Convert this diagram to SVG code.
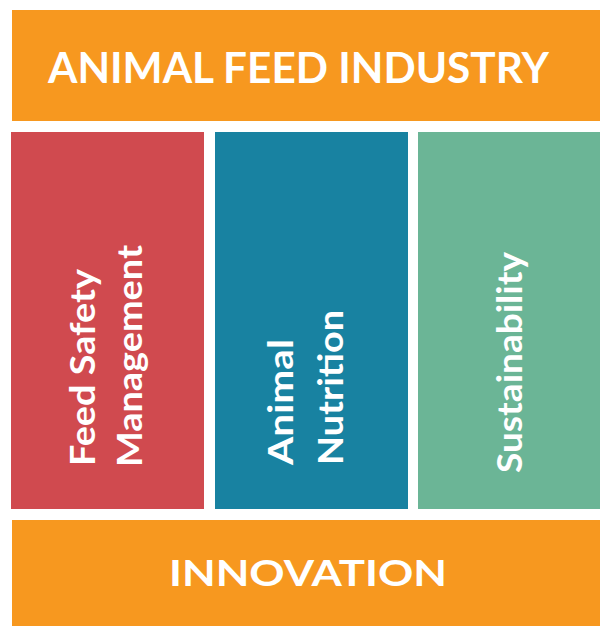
<svg xmlns="http://www.w3.org/2000/svg" width="600" height="626" viewBox="0 0 600 626">
<style>
.band{fill:#F7981F}
.t{font-family:Lato,"Open Sans","Liberation Sans",sans-serif;fill:#fff}
.h{font-size:42px;font-weight:700}
.c{font-size:35px;font-weight:700}
</style>
<rect width="600" height="626" fill="#fff"/>
<g id="top">
<rect class="band" x="12" y="10" width="588" height="111"/>
<text class="t h" x="48" y="83" textLength="501" lengthAdjust="spacingAndGlyphs">ANIMAL FEED INDUSTRY</text>
</g>
<g id="feed-safety">
<rect x="11" y="132" width="193" height="377" fill="#D04A4F"/>
<text class="t c" transform="translate(95,466) rotate(-90)" textLength="197" lengthAdjust="spacingAndGlyphs">Feed Safety</text>
<text class="t c" transform="translate(142,467) rotate(-90)" textLength="222" lengthAdjust="spacingAndGlyphs">Management</text>
</g>
<g id="animal-nutrition">
<rect x="215" y="132" width="193" height="377" fill="#1882A1"/>
<text class="t c" transform="translate(293,465) rotate(-90)" textLength="126" lengthAdjust="spacingAndGlyphs">Animal</text>
<text class="t c" transform="translate(343,465) rotate(-90)" textLength="155" lengthAdjust="spacingAndGlyphs">Nutrition</text>
</g>
<g id="sustainability">
<rect x="418" y="132" width="182" height="377" fill="#6BB596"/>
<text class="t c" transform="translate(522,473) rotate(-90)" textLength="221" lengthAdjust="spacingAndGlyphs">Sustainability</text>
</g>
<g id="bottom">
<rect class="band" x="12" y="520" width="588" height="106"/>
<text class="t h" style="font-size:36px" x="169" y="586" textLength="278" lengthAdjust="spacingAndGlyphs">INNOVATION</text>
</g>
<g id="connectors"/>
</svg>
